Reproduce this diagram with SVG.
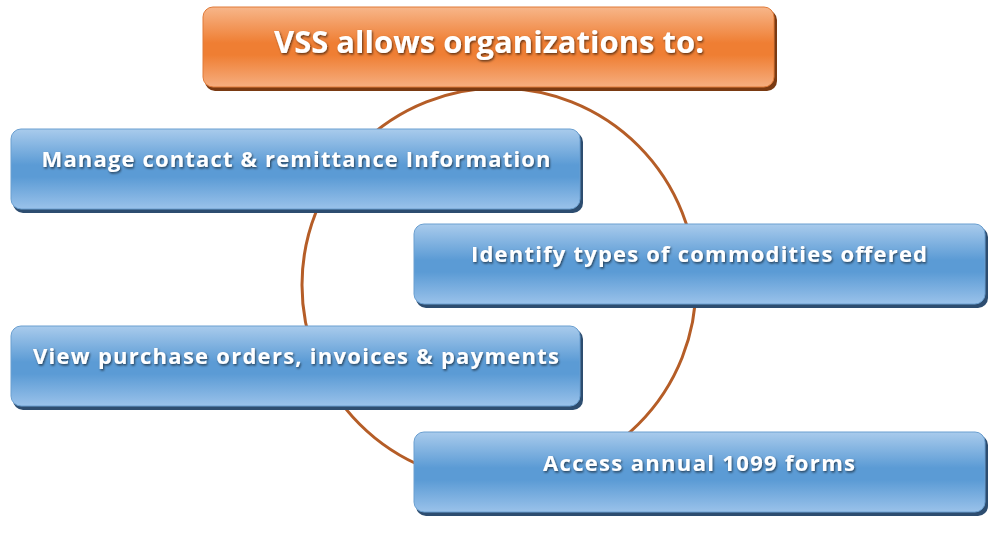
<svg xmlns="http://www.w3.org/2000/svg" width="994" height="536" viewBox="0 0 994 536">
<defs>
<linearGradient id="gb" x1="0" y1="0" x2="0" y2="1">
<stop offset="0" stop-color="#A9CBEC"/><stop offset="0.45" stop-color="#5B9BD5"/><stop offset="0.6" stop-color="#5B9BD5"/><stop offset="1" stop-color="#9AC2EA"/></linearGradient>
<linearGradient id="go" x1="0" y1="0" x2="0" y2="1">
<stop offset="0" stop-color="#F7B68A"/><stop offset="0.45" stop-color="#EF7E33"/><stop offset="0.6" stop-color="#EF7E33"/><stop offset="1" stop-color="#F6AE80"/></linearGradient>
<filter id="ts"><feDropShadow dx="1" dy="1.5" stdDeviation="0.8" flood-color="#000" flood-opacity="0.6"/></filter>
</defs>
<style>
.sb{fill:#2D4D70}.so{fill:#7A3A12}
.b{fill:url(#gb);stroke:#6A9FD0;stroke-width:1}
.o{fill:url(#go);stroke:#E07A38;stroke-width:1}
text{font-family:"Open Sans","DejaVu Sans",sans-serif;font-weight:bold;fill:#fff;text-anchor:middle;filter:url(#ts)}
.t{font-size:22px}
</style>
<g id="connectors"><circle cx="499" cy="285" r="197" fill="none" stroke="#B55D27" stroke-width="3"/></g>
<g id="title"><rect class="so" x="205" y="10" width="572" height="81" rx="10"/><rect class="o" x="203" y="7" width="571" height="80" rx="10"/><text x="489" y="53" font-size="31" textLength="430">VSS allows organizations to:</text></g>
<g id="n1"><rect class="sb" x="13" y="132" width="570" height="81" rx="10"/><rect class="b" x="11" y="129" width="569" height="80" rx="10"/><text class="t" x="296" y="167" textLength="509">Manage contact &amp; remittance Information</text></g>
<g id="n2"><rect class="sb" x="416" y="227" width="572" height="81" rx="10"/><rect class="b" x="414" y="224" width="571" height="80" rx="10"/><text class="t" x="699" y="262" textLength="456">Identify types of commodities offered</text></g>
<g id="n3"><rect class="sb" x="13" y="329" width="570" height="81" rx="10"/><rect class="b" x="11" y="326" width="569" height="80" rx="10"/><text class="t" x="296" y="364" textLength="526">View purchase orders, invoices &amp; payments</text></g>
<g id="n4"><rect class="sb" x="416" y="435" width="572" height="81" rx="10"/><rect class="b" x="414" y="432" width="571" height="80" rx="10"/><text class="t" x="699" y="471" textLength="312">Access annual 1099 forms</text></g>
</svg>
